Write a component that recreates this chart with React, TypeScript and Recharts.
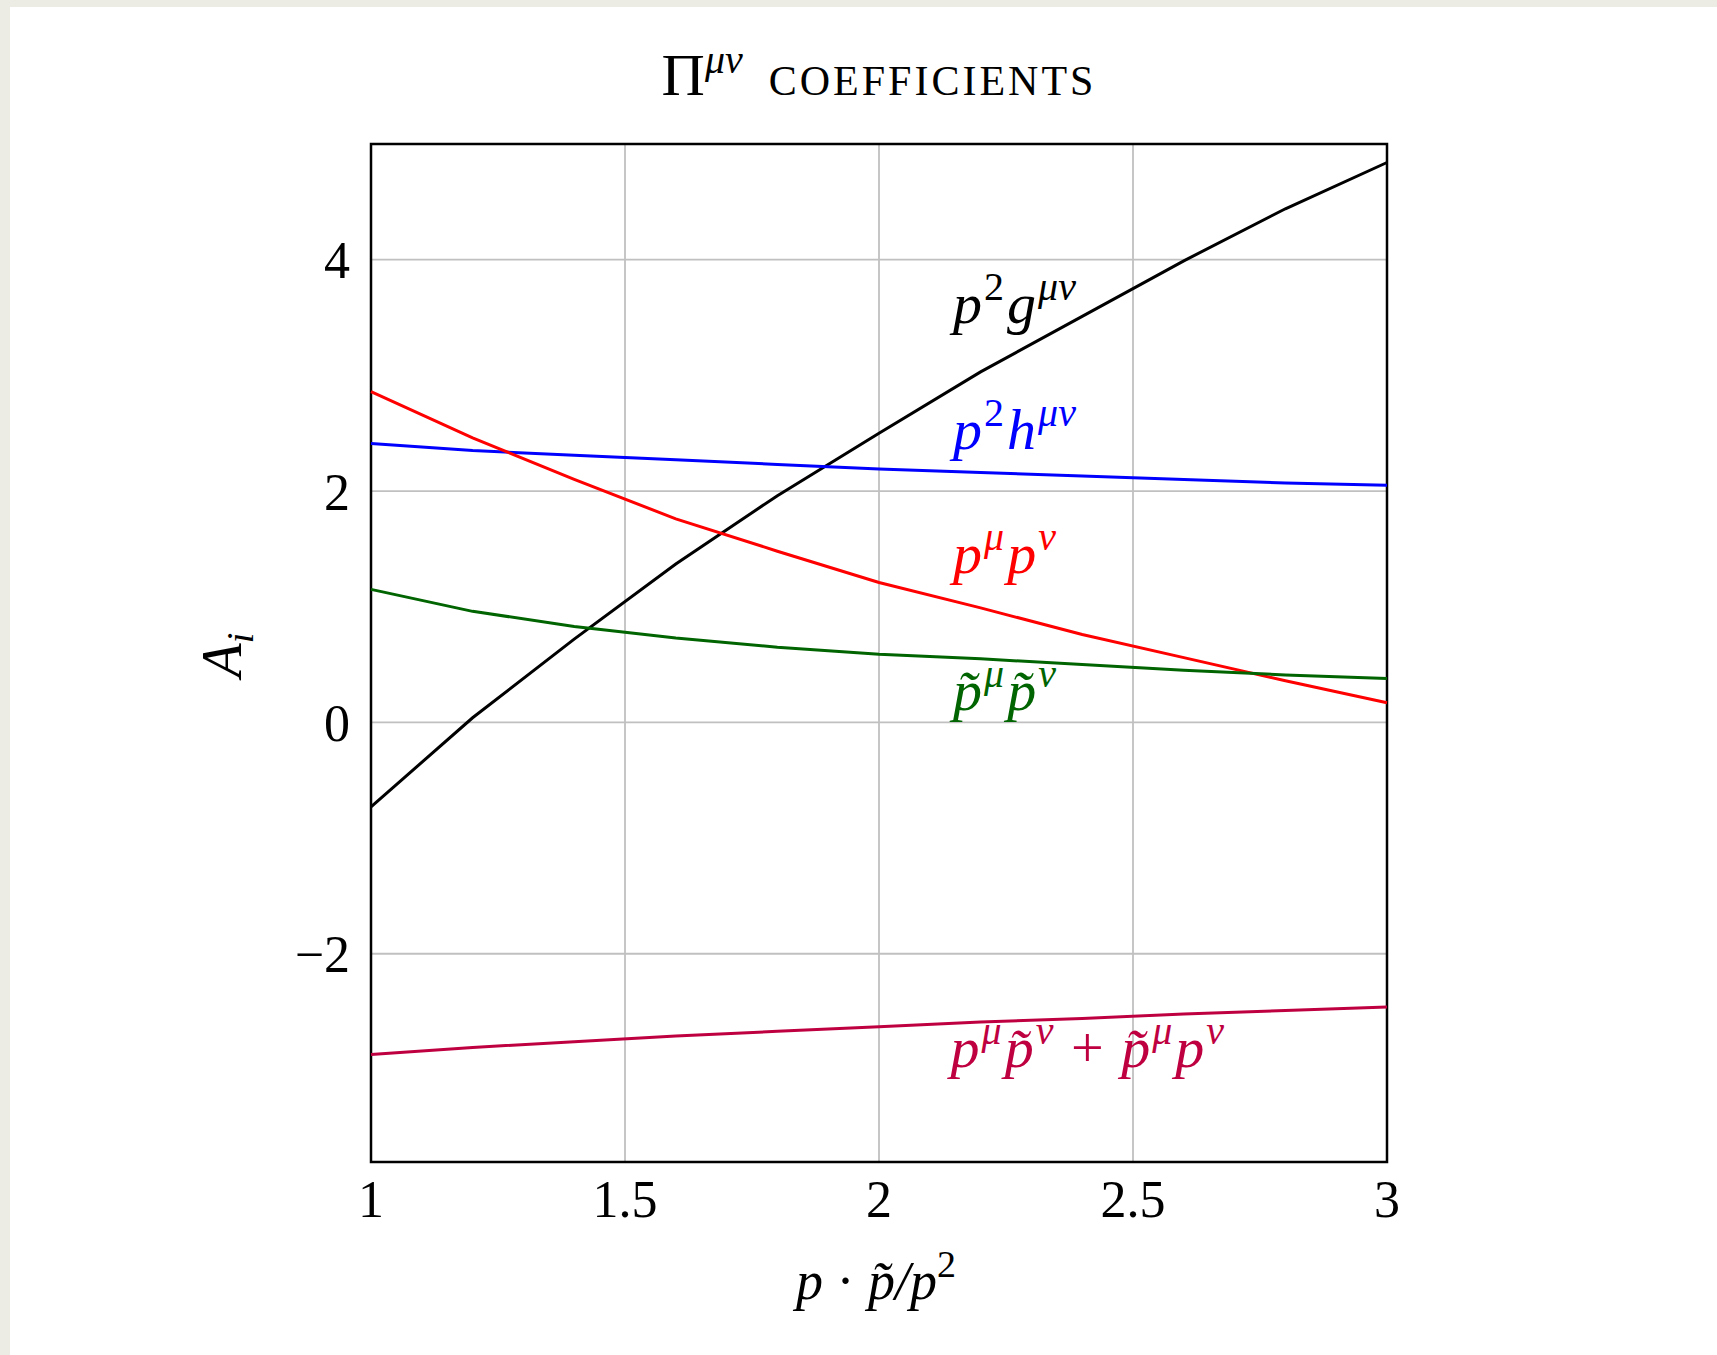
import React from 'react';
import {
  LineChart,
  Line,
  XAxis,
  YAxis,
  CartesianGrid,
  ReferenceArea,
  ReferenceDot,
} from 'recharts';

const xs = [1, 1.2, 1.4, 1.6, 1.8, 2, 2.2, 2.4, 2.6, 2.8, 3];
const gCoef = [-0.73, 0.04, 0.72, 1.37, 1.96, 2.5, 3.03, 3.51, 3.99, 4.44, 4.84];
const hCoef = [2.41, 2.35, 2.31, 2.27, 2.23, 2.19, 2.16, 2.13, 2.1, 2.07, 2.05];
const ppCoef = [2.86, 2.46, 2.1, 1.76, 1.48, 1.21, 0.99, 0.76, 0.56, 0.36, 0.17];
const ttCoef = [1.15, 0.96, 0.83, 0.73, 0.65, 0.59, 0.55, 0.5, 0.45, 0.41, 0.38];
const mixCoef = [-2.87, -2.81, -2.76, -2.71, -2.67, -2.63, -2.59, -2.56, -2.52, -2.49, -2.46];

const xTicks = [1, 1.5, 2, 2.5, 3];
const yTicks = [-2, 0, 2, 4];

const data = xs.map((x, i) => ({
  x,
  g: gCoef[i],
  h: hCoef[i],
  pp: ppCoef[i],
  tt: ttCoef[i],
  mix: mixCoef[i],
}));

type Part = { t: string; sup?: boolean };

// series annotations: x (left edge), y (baseline), colour, pieces
const labelX = [2.14, 2.14, 2.14, 2.14, 2.135];
const labelY = [3.45, 2.36, 1.29, 0.11, -2.98];
const labelColor = ['#000000', '#0000ff', '#ff0000', '#006400', '#bf0040'];
const labelParts: Part[][] = [
  [{ t: 'p' }, { t: '2', sup: true }, { t: 'g' }, { t: 'μν', sup: true }],
  [{ t: 'p' }, { t: '2', sup: true }, { t: 'h' }, { t: 'μν', sup: true }],
  [{ t: 'p' }, { t: 'μ', sup: true }, { t: 'p' }, { t: 'ν', sup: true }],
  [{ t: 'p̃' }, { t: 'μ', sup: true }, { t: 'p̃' }, { t: 'ν', sup: true }],
  [
    { t: 'p' },
    { t: 'μ', sup: true },
    { t: 'p̃' },
    { t: 'ν', sup: true },
    { t: ' + ' },
    { t: 'p̃' },
    { t: 'μ', sup: true },
    { t: 'p' },
    { t: 'ν', sup: true },
  ],
];

const serif = '"Liberation Serif", "DejaVu Serif", serif';
const FS = 58;
const SUP = 40;
const RAISE = 23;

function mathLabel(parts: Part[], color: string) {
  return (props: any) => {
    const { cx, cy } = props;
    let up = false;
    return (
      <text x={cx} y={cy} fill={color} fontFamily={serif} fontStyle="italic" fontSize={FS}>
        {parts.map((p, i) => {
          let dy = 0;
          if (p.sup && !up) {
            dy = -RAISE;
            up = true;
          } else if (!p.sup && up) {
            dy = RAISE;
            up = false;
          }
          return (
            <tspan
              key={i}
              dy={dy}
              dx={p.sup ? 2 : 3}
              fontSize={p.sup ? SUP : FS}
              fontStyle={p.t === ' + ' || /\d/.test(p.t) ? 'normal' : 'italic'}
            >
              {p.t}
            </tspan>
          );
        })}
      </text>
    );
  };
}

const fmtY = (v: number) => (v < 0 ? '\u2212' + Math.abs(v) : String(v));

export default function App() {
  return (
    <div
      style={{
        position: 'fixed',
        left: 0,
        top: 0,
        width: 1717,
        height: 1355,
        background: '#ecebe4',
        overflow: 'hidden',
      }}
    >
      <div
        style={{
          position: 'absolute',
          left: 10,
          top: 7,
          right: 0,
          bottom: 0,
          background: '#ffffff',
        }}
      />
      <div style={{ position: 'absolute', left: 0, top: 0 }}>
        <LineChart
          width={1717}
          height={1355}
          data={data}
          margin={{ top: 144, right: 330, bottom: 133, left: 291 }}
        >
          <CartesianGrid stroke="#c0c0c0" strokeWidth={1.8} />
          <XAxis
            dataKey="x"
            type="number"
            domain={[1, 3]}
            ticks={xTicks}
            height={60}
            tickLine={false}
            axisLine={false}
            tickSize={0}
            tickMargin={18}
            tick={{ fill: '#000', fontFamily: serif, fontSize: 52 }}
          />
          <YAxis
            type="number"
            domain={[-3.8, 5]}
            ticks={yTicks}
            width={80}
            tickLine={false}
            axisLine={false}
            tickSize={0}
            tickMargin={21}
            tickFormatter={fmtY}
            tick={{ fill: '#000', fontFamily: serif, fontSize: 52 }}
          />
          <Line dataKey="g" stroke="#000000" strokeWidth={3} dot={false} isAnimationActive={false} />
          <Line dataKey="h" stroke="#0000ff" strokeWidth={3} dot={false} isAnimationActive={false} />
          <Line dataKey="pp" stroke="#ff0000" strokeWidth={3} dot={false} isAnimationActive={false} />
          <Line dataKey="tt" stroke="#006400" strokeWidth={3} dot={false} isAnimationActive={false} />
          <Line dataKey="mix" stroke="#bf0040" strokeWidth={3} dot={false} isAnimationActive={false} />
          <ReferenceArea x1={1} x2={3} y1={-3.8} y2={5} fill="none" stroke="#000" strokeWidth={2.5} />
          {labelParts.map((parts, i) => (
            <ReferenceDot
              key={i}
              x={labelX[i]}
              y={labelY[i]}
              r={0}
              shape={mathLabel(parts, labelColor[i])}
            />
          ))}
        </LineChart>
      </div>
      <div
        style={{
          position: 'absolute',
          left: 371,
          width: 1016,
          top: 40,
          textAlign: 'center',
          fontFamily: serif,
          fontSize: 60,
          lineHeight: '70px',
          color: '#000',
          whiteSpace: 'nowrap',
        }}
      >
        Π<sup style={{ fontSize: 40, fontStyle: 'italic', verticalAlign: 0, position: 'relative', top: -22 }}>μν</sup>
        <span style={{ fontVariant: 'small-caps', marginLeft: 26, letterSpacing: 3 }}>coefficients</span>
      </div>
      <div
        style={{
          position: 'absolute',
          left: 222 - 60,
          top: 655 - 35,
          width: 120,
          height: 70,
          lineHeight: '70px',
          textAlign: 'center',
          transform: 'rotate(-90deg)',
          fontFamily: serif,
          fontStyle: 'italic',
          fontSize: 56,
          color: '#000',
        }}
      >
        A<sub style={{ fontSize: 38, verticalAlign: 0, position: 'relative', top: 12 }}>i</sub>
      </div>
      <div
        style={{
          position: 'absolute',
          left: 676,
          width: 400,
          top: 1246,
          lineHeight: '70px',
          textAlign: 'center',
          fontFamily: serif,
          fontStyle: 'italic',
          fontSize: 54,
          color: '#000',
        }}
      >
        p <span style={{ fontStyle: 'normal' }}>·</span> p̃/p
        <sup style={{ fontSize: 38, fontStyle: 'normal', verticalAlign: 0, position: 'relative', top: -22 }}>2</sup>
      </div>
    </div>
  );
}
